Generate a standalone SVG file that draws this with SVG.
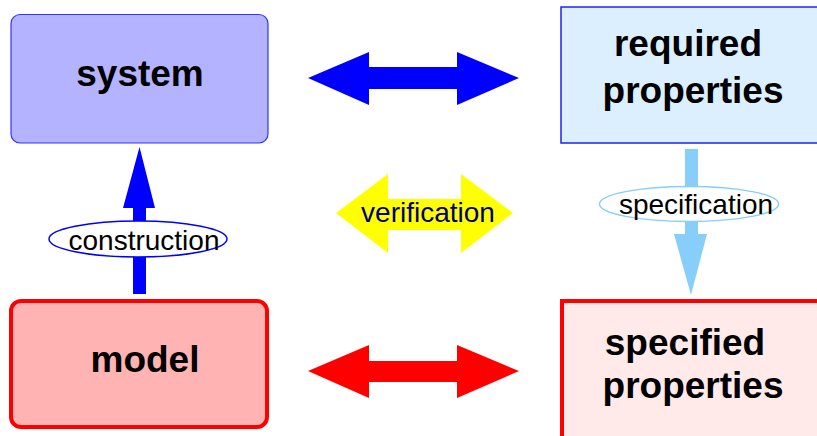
<svg xmlns="http://www.w3.org/2000/svg" width="817" height="436" viewBox="0 0 817 436">
<style>
.big{font-family:"Liberation Sans",Arial,sans-serif;font-weight:bold;font-size:37px;fill:#000;text-anchor:middle}
.lbl{font-family:"Liberation Sans",Arial,sans-serif;font-size:28px;fill:#000;text-anchor:middle}
</style>
<rect width="817" height="436" fill="#fff"/>
<g id="connectors">
  <g id="construction">
    <polygon points="133,294 146,294 146,208 155,208 139.5,147 123,208 133,208" fill="#0000ff"/>
    <ellipse cx="138" cy="239" rx="89" ry="18" fill="#fff" stroke="#0000ff" stroke-width="1.5"/>
    <text class="lbl" x="144" y="250">construction</text>
  </g>
  <g id="specification">
    <polygon points="685,149 698,149 698,234 707,234 691,295 674,234 685,234" fill="#87cefa"/>
    <ellipse cx="689" cy="204" rx="89.5" ry="17.5" fill="#fff" stroke="#87cefa" stroke-width="1.5"/>
    <text class="lbl" x="696" y="214">specification</text>
  </g>
  <g id="verification">
    <polygon points="336,213 388,174 388,199 461,199 461,174 513,213 461,253 461,230 388,230 388,253" fill="#ffff00"/>
    <text class="lbl" x="428" y="222" style="fill:#000080">verification</text>
  </g>
  <polygon id="sys-req" points="308,78 369,52 369,67 457,67 457,52 519,78 457,105 457,89 369,89 369,105" fill="#0000ff"/>
  <polygon id="model-spec" points="308,371 369,345 369,361 457,361 457,345 519,371 457,398 457,382 369,382 369,398" fill="#ff0000"/>
</g>
<g id="system">
  <rect x="11" y="14.5" width="257" height="128.5" rx="9" fill="#b3b3ff" stroke="#3333ff" stroke-width="1.2"/>
  <text class="big" x="140" y="86">system</text>
</g>
<g id="required">
  <rect x="561" y="7" width="262" height="136" fill="#dbefff" stroke="#2222ee" stroke-width="1.5"/>
  <text class="big" x="688" y="56">required</text>
  <text class="big" x="693" y="103">properties</text>
</g>
<g id="model">
  <rect x="11" y="301" width="256" height="126" rx="10" fill="#ffb3b3" stroke="#ff0000" stroke-width="4"/>
  <text class="big" x="145" y="372">model</text>
</g>
<g id="specified">
  <rect x="562" y="301" width="262" height="140" fill="#ffe9e9" stroke="#ff0000" stroke-width="4"/>
  <text class="big" x="685" y="355">specified</text>
  <text class="big" x="693" y="398">properties</text>
</g>
</svg>
